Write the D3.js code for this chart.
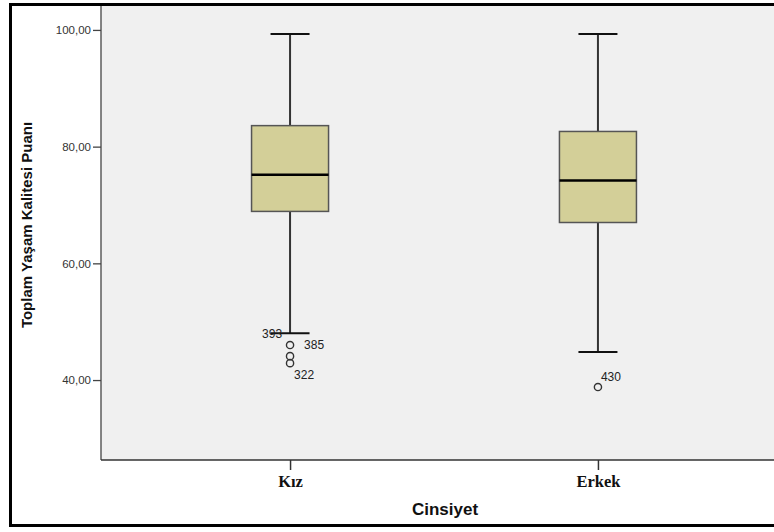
<!DOCTYPE html>
<html>
<head>
<meta charset="utf-8">
<script src="https://cdn.jsdelivr.net/npm/d3@7"></script>
<style>
  body { margin: 0; background: #fff; }
  svg { display: block; }
</style>
</head>
<body>
<script>
// box plot values
const categories = ["Kız", "Erkek"]
const whiskerHigh = [99.3, 99.3]
const q3 = [83.6, 82.6]
const medians = [75.2, 74.2]
const q1 = [68.9, 67.0]
const whiskerLow = [48.0, 44.8]

const outlierCats = ["Kız", "Kız", "Kız", "Erkek"]
const outlierValues = [46.0, 44.1, 42.9, 38.8]
const outlierIds = ["385", "", "322", "430"]

// case label sitting on the lower whisker end of Kız
const extraLabelCats = ["Kız"]
const extraLabelValues = [48.0]
const extraLabelIds = ["393"]

const yTicks = [40, 60, 80, 100]

const width = 774, height = 532
const margin = {left: 101, top: 6, right: -13, bottom: 72}

// offsets of the case labels next to their circles
const labelOffset = {
  "385": [14, 4], "322": [4, 16], "430": [3, -6], "393": [-28, 5]
}

const locale = d3.formatLocale({decimal: ",", thousands: ".", grouping: [3], currency: ["", ""]})
const fmt = locale.format(".2f")

const svg = d3.select("body").append("svg")
  .attr("width", width)
  .attr("height", height)

const x = d3.scalePoint()
  .domain(categories)
  .range([margin.left, width - margin.right])
  .padding(0.614)

const y = d3.scaleLinear()
  .domain([26.3, 104.1])
  .range([height - margin.bottom, margin.top])

// plot background
svg.append("rect")
  .attr("x", margin.left)
  .attr("y", margin.top)
  .attr("width", width - margin.right - margin.left)
  .attr("height", height - margin.bottom - margin.top)
  .attr("fill", "#f0f0f0")

// y axis
const yAxis = g => g
  .attr("transform", `translate(${margin.left},0)`)
  .call(d3.axisLeft(y).tickValues(yTicks).tickFormat(fmt).tickSize(8).tickPadding(2))
  .call(g => g.select(".domain").attr("d", `M0,${margin.top}V${height - margin.bottom}`))
  .call(g => g.selectAll("line, path").attr("stroke", "#444").attr("stroke-width", 1.3))
  .call(g => g.selectAll("text")
    .attr("fill", "#333")
    .attr("font-family", "Liberation Sans, Arial, sans-serif")
    .attr("font-size", 11.5))

svg.append("g").call(yAxis)

// x axis
const xAxis = g => g
  .attr("transform", `translate(0,${height - margin.bottom})`)
  .call(d3.axisBottom(x).tickSize(10).tickPadding(5))
  .call(g => g.select(".domain").attr("d", `M${margin.left},0H${width}`))
  .call(g => g.selectAll("line, path").attr("stroke", "#333").attr("stroke-width", 1.5))
  .call(g => g.selectAll("text")
    .attr("fill", "#111")
    .attr("font-family", "Liberation Serif, Times New Roman, serif")
    .attr("font-weight", "bold")
    .attr("font-size", 16.5))

svg.append("g").call(xAxis)

const boxW = 77
const capW = 39

const boxes = svg.append("g").selectAll("g")
  .data(categories.map((c, i) => ({
    cat: c, hi: whiskerHigh[i], q3: q3[i], med: medians[i], q1: q1[i], lo: whiskerLow[i]
  })))
  .join("g")
  .attr("transform", d => `translate(${x(d.cat)},0)`)

// whiskers
boxes.append("line")
  .attr("x1", 0).attr("x2", 0)
  .attr("y1", d => y(d.hi)).attr("y2", d => y(d.lo))
  .attr("stroke", "#333").attr("stroke-width", 2)

boxes.selectAll(".cap")
  .data(d => [d.hi, d.lo])
  .join("line")
  .attr("class", "cap")
  .attr("x1", -capW / 2).attr("x2", capW / 2)
  .attr("y1", v => y(v)).attr("y2", v => y(v))
  .attr("stroke", "#111").attr("stroke-width", 2)

// box
boxes.append("rect")
  .attr("x", -boxW / 2)
  .attr("width", boxW)
  .attr("y", d => y(d.q3))
  .attr("height", d => y(d.q1) - y(d.q3))
  .attr("fill", "#d3cf98")
  .attr("stroke", "#555")
  .attr("stroke-width", 1.5)

boxes.append("line")
  .attr("x1", -boxW / 2).attr("x2", boxW / 2)
  .attr("y1", d => y(d.med)).attr("y2", d => y(d.med))
  .attr("stroke", "#000").attr("stroke-width", 2.5)

// outliers
const outliers = outlierValues.map((v, i) => ({cat: outlierCats[i], value: v, id: outlierIds[i]}))

svg.append("g").selectAll("circle")
  .data(outliers)
  .join("circle")
  .attr("cx", d => x(d.cat))
  .attr("cy", d => y(d.value))
  .attr("r", 3.6)
  .attr("fill", "none")
  .attr("stroke", "#333")
  .attr("stroke-width", 1.4)

const labels = outliers.filter(d => d.id)
  .concat(extraLabelValues.map((v, i) => ({cat: extraLabelCats[i], value: v, id: extraLabelIds[i]})))

svg.append("g").selectAll("text")
  .data(labels)
  .join("text")
  .attr("x", d => x(d.cat) + labelOffset[d.id][0])
  .attr("y", d => y(d.value) + labelOffset[d.id][1])
  .attr("fill", "#222")
  .attr("font-family", "Liberation Sans, Arial, sans-serif")
  .attr("font-size", 12)
  .text(d => d.id)

// axis titles
svg.append("text")
  .attr("x", 445)
  .attr("y", 515)
  .attr("text-anchor", "middle")
  .attr("font-family", "Liberation Sans, Arial, sans-serif")
  .attr("font-weight", "bold")
  .attr("font-size", 17)
  .attr("fill", "#111")
  .text("Cinsiyet")

svg.append("text")
  .attr("transform", `translate(32,225) rotate(-90)`)
  .attr("text-anchor", "middle")
  .attr("font-family", "Liberation Sans, Arial, sans-serif")
  .attr("font-weight", "bold")
  .attr("font-size", 15)
  .attr("fill", "#111")
  .text("Toplam Yaşam Kalitesi Puanı")

// outer frame
svg.append("path")
  .attr("d", `M${width},4.5H10.5V525.5H${width}`)
  .attr("fill", "none")
  .attr("stroke", "#000")
  .attr("stroke-width", 3)
</script>
</body>
</html>
